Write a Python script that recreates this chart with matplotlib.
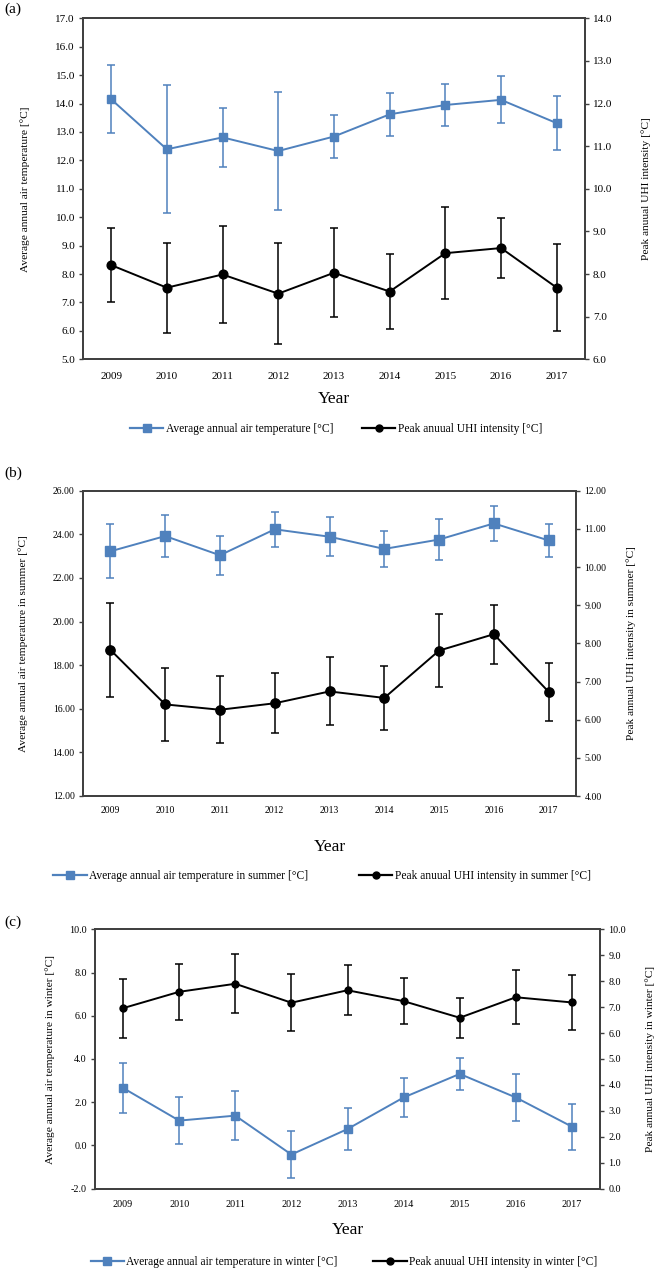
import matplotlib
matplotlib.use("Agg")
import matplotlib.pyplot as plt
from matplotlib.ticker import FormatStrFormatter, MultipleLocator
from matplotlib.lines import Line2D

plt.rcParams['font.family'] = ['Liberation Serif', 'DejaVu Serif']

years = ['2009', '2010', '2011', '2012', '2013', '2014', '2015', '2016', '2017']

a_temp = [14.15, 12.39, 12.81, 12.33, 12.84, 13.62, 13.95, 14.13, 13.31]
a_temp_err = [1.20, 2.25, 1.03, 2.08, 0.77, 0.76, 0.73, 0.83, 0.95]
a_uhi = [8.21, 7.68, 7.99, 7.54, 8.03, 7.59, 8.49, 8.61, 7.68]
a_uhi_err = [0.87, 1.06, 1.13, 1.18, 1.04, 0.87, 1.08, 0.70, 1.02]

b_temp = [23.22, 23.92, 23.04, 24.23, 23.89, 23.33, 23.76, 24.50, 23.72]
b_temp_err = [1.24, 0.96, 0.89, 0.79, 0.90, 0.84, 0.95, 0.79, 0.77]
b_uhi = [7.83, 6.40, 6.26, 6.43, 6.74, 6.57, 7.81, 8.24, 6.73]
b_uhi_err = [1.24, 0.95, 0.88, 0.79, 0.89, 0.84, 0.95, 0.77, 0.76]

c_temp = [2.66, 1.15, 1.38, -0.42, 0.76, 2.22, 3.31, 2.22, 0.87]
c_temp_err = [1.15, 1.07, 1.14, 1.09, 0.98, 0.89, 0.75, 1.07, 1.07]
c_uhi = [6.96, 7.59, 7.90, 7.17, 7.65, 7.23, 6.59, 7.38, 7.18]
c_uhi_err = [1.14, 1.07, 1.13, 1.09, 0.97, 0.90, 0.77, 1.05, 1.06]

BLUE = '#4F81BD'
SPINE = '#404040'
W, H = 660, 1271

fig = plt.figure(figsize=(W / 100, H / 100), dpi=100)


def px_axes(l, r, t, b):
    return fig.add_axes([l / W, 1 - b / H, (r - l) / W, (b - t) / H])


def panel(box, temp, terr, uhi, uerr, lylim, lstep, rylim, rstep, fmt,
          tick_fs, lab_left, lab_right, leg_left, leg_right,
          lab_lx, lab_rx, tick_pad, year_y, leg_y, leg_x, colsp, tag, tag_y,
          msq, mci):
    l, r, t, b = box
    ax = px_axes(l, r, t, b)
    ax2 = ax.twinx()
    x = list(range(len(years)))
    ax.errorbar(x, temp, yerr=terr, color=BLUE, ecolor=BLUE, lw=1.4,
                elinewidth=1.1, capsize=2.6, capthick=1.1, marker='s',
                markersize=msq, zorder=3)
    ax2.errorbar(x, uhi, yerr=uerr, color='black', ecolor='black', lw=1.4,
                 elinewidth=1.1, capsize=2.6, capthick=1.1, marker='o',
                 markersize=mci, zorder=3)
    ax.set_xlim(-0.5, len(years) - 0.5)
    ax.set_xticks(x)
    ax.set_xticklabels(years, fontsize=tick_fs)
    ax.tick_params(axis='x', length=0, pad=tick_pad)
    ax.set_ylim(*lylim)
    ax.yaxis.set_major_locator(MultipleLocator(lstep))
    ax.yaxis.set_major_formatter(FormatStrFormatter(fmt))
    ax2.set_ylim(*rylim)
    ax2.yaxis.set_major_locator(MultipleLocator(rstep))
    ax2.yaxis.set_major_formatter(FormatStrFormatter(fmt))
    ax.tick_params(axis='y', labelsize=tick_fs, length=3, width=1, color=SPINE, pad=3)
    ax2.tick_params(axis='y', labelsize=tick_fs, length=3, width=1, color=SPINE, pad=3)
    for a in (ax, ax2):
        for s in a.spines.values():
            s.set_color(SPINE)
            s.set_linewidth(1.3)
    fig.text(lab_lx / W, 1 - (t + b) / 2 / H, lab_left, rotation=90,
             ha='center', va='center', fontsize=8.2)
    fig.text(lab_rx / W, 1 - (t + b) / 2 / H, lab_right, rotation=90,
             ha='center', va='center', fontsize=8.2)
    fig.text((l + r) / 2 / W, 1 - year_y / H, 'Year', ha='center',
             va='center', fontsize=12.5)
    fig.text(4 / W, 1 - tag_y / H, tag, ha='left', va='center', fontsize=11)
    handles = [Line2D([], [], color=BLUE, lw=1.6, marker='s', markersize=5.3),
               Line2D([], [], color='black', lw=1.6, marker='o', markersize=5.0)]
    fig.legend(handles, [leg_left, leg_right], loc='center',
               bbox_to_anchor=(leg_x / W, 1 - leg_y / H), ncol=2,
               frameon=False, fontsize=8.3, handlelength=2.9,
               columnspacing=colsp, handletextpad=0.2,
               borderpad=0, borderaxespad=0)


panel((83.3, 584.6, 18.3, 359.3), a_temp, a_temp_err, a_uhi, a_uhi_err,
      (5, 17), 1, (6, 14), 1, '%.1f', 8,
      'Average annual air temperature [°C]', 'Peak anuual UHI intensity [°C]',
      'Average annual air temperature [°C]', 'Peak anuual UHI intensity [°C]',
      25, 646, 9, 399, 429, 336, 2.5, '(a)', 9, 6.3, 6.3)

panel((83, 576, 490.7, 796), b_temp, b_temp_err, b_uhi, b_uhi_err,
      (12, 26), 2, (4, 12), 1, '%.2f', 7,
      'Average annual air temperature in summer [°C]',
      'Peak annual UHI intensity in summer [°C]',
      'Average annual air temperature in summer [°C]',
      'Peak anuual UHI intensity in summer [°C]',
      23, 631, 7, 847, 876, 322, 4.4, '(b)', 473, 6.5, 6.7)

panel((95, 600, 929.3, 1188.7), c_temp, c_temp_err, c_uhi, c_uhi_err,
      (-2, 10), 2, (0, 10), 1, '%.1f', 7.3,
      'Average annual air temperature in winter [°C]',
      'Peak annual UHI intensity in winter [°C]',
      'Average annual air temperature in winter [°C]',
      'Peak anuual UHI intensity in winter [°C]',
      50, 650, 8, 1230, 1262, 344, 3.1, '(c)', 922, 5.6, 5.0)

fig.savefig('out.png', dpi=100)
